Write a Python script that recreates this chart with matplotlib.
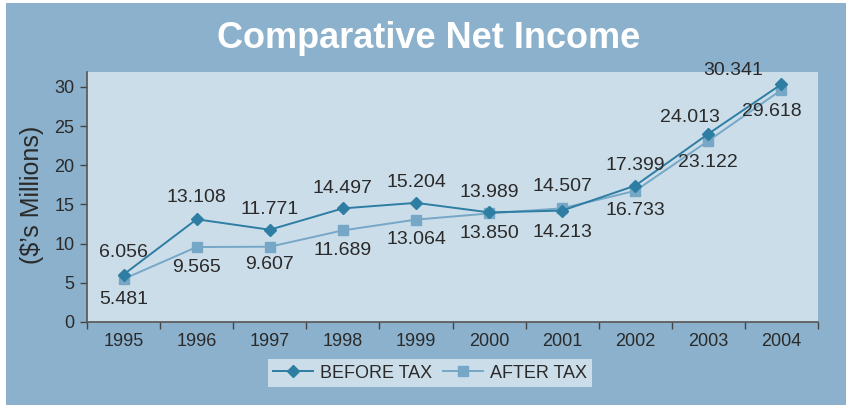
import matplotlib
matplotlib.use("Agg")
import matplotlib.pyplot as plt
from matplotlib.patches import Rectangle
import numpy as np

# data
years = ['1995', '1996', '1997', '1998', '1999', '2000', '2001', '2002', '2003', '2004']
before_tax = [6.056, 13.108, 11.771, 14.497, 15.204, 13.989, 14.213, 17.399, 24.013, 30.341]
after_tax = [5.481, 9.565, 9.607, 11.689, 13.064, 13.850, 14.507, 16.733, 23.122, 29.618]

plt.rcParams['font.family'] = ['Liberation Sans', 'DejaVu Sans']

BG = '#8bb1cc'
PLOT_BG = '#cbdde9'
C_BEFORE = '#2e7da2'
C_AFTER = '#76a7c7'
TXT = '#2a2a2a'

fig = plt.figure(figsize=(8.46, 4.05), dpi=100)
fig.patch.set_facecolor('white')
# blue panel with thin white margin at top/left
fig.patches.append(Rectangle((6 / 846, 0), 1, 1 - 3 / 405, transform=fig.transFigure,
                             facecolor=BG, edgecolor='none', zorder=-10))

ax = fig.add_axes([87 / 846, 83 / 405, 731 / 846, 250 / 405])
ax.set_facecolor(PLOT_BG)

x = np.arange(len(years))
ax.plot(x, before_tax, color=C_BEFORE, lw=1.4, marker='D', ms=6, label='BEFORE TAX', zorder=4)
ax.plot(x, after_tax, color=C_AFTER, lw=1.4, marker='s', ms=7.5, label='AFTER TAX', zorder=3)

# value labels: larger value above, smaller below
top_off = [(0, 22), (0, 22), (0, 20), (0, 20), (0, 20), (0, 20), (0, 22), (0, 20), (-18, 16), (-48, 14)]
bot_off = [(0, -20), (0, -20), (0, -18), (0, -20), (0, -20), (0, -20), (0, -22), (0, -20), (0, -22), (-10, -22)]
for i in range(len(years)):
    hi = max(before_tax[i], after_tax[i])
    lo = min(before_tax[i], after_tax[i])
    ax.annotate(f'{hi:.3f}', (x[i], hi), xytext=top_off[i], textcoords='offset pixels',
                ha='center', va='center', fontsize=14, color=TXT, zorder=5)
    ax.annotate(f'{lo:.3f}', (x[i], lo), xytext=bot_off[i], textcoords='offset pixels',
                ha='center', va='center', fontsize=14, color=TXT, zorder=5)

ax.set_xlim(-0.5, len(years) - 0.5)
ax.set_ylim(0, 31.9)
ax.set_yticks(range(0, 31, 5))
ax.set_xticks(x)
ax.set_xticklabels(years)
ax.set_xticks(np.arange(-0.5, len(years), 1), minor=True)
ax.tick_params(axis='x', which='major', length=0, pad=8, labelsize=13, labelcolor=TXT)
ax.tick_params(axis='x', which='minor', length=5, width=1, color='#444444', direction='out')
ax.tick_params(axis='y', length=5, width=1, color='#444444', pad=4, labelsize=13, labelcolor=TXT)

for s in ['top', 'right']:
    ax.spines[s].set_visible(False)
for s in ['left', 'bottom']:
    ax.spines[s].set_color('#555555')
    ax.spines[s].set_linewidth(1.2)

fig.text(32 / 846, 1 - 195 / 405, '($\u2019s Millions)', rotation=90, ha='center', va='center',
         fontsize=18, color=TXT)
fig.text(429 / 846, 1 - 38 / 405, 'Comparative Net Income', ha='center', va='center',
         fontsize=26, fontweight='bold', color='white')

leg = fig.legend(loc='center', bbox_to_anchor=(430 / 846, 1 - 373 / 405), ncol=2,
                 frameon=True, fancybox=False, fontsize=13, handlelength=2.2,
                 columnspacing=0.6, handletextpad=0.4, borderpad=0.3)
leg.get_frame().set_facecolor(PLOT_BG)
leg.get_frame().set_edgecolor('none')
leg.get_frame().set_alpha(1)
for t in leg.get_texts():
    t.set_color(TXT)

fig.savefig('out.png', dpi=100, facecolor=fig.get_facecolor())
